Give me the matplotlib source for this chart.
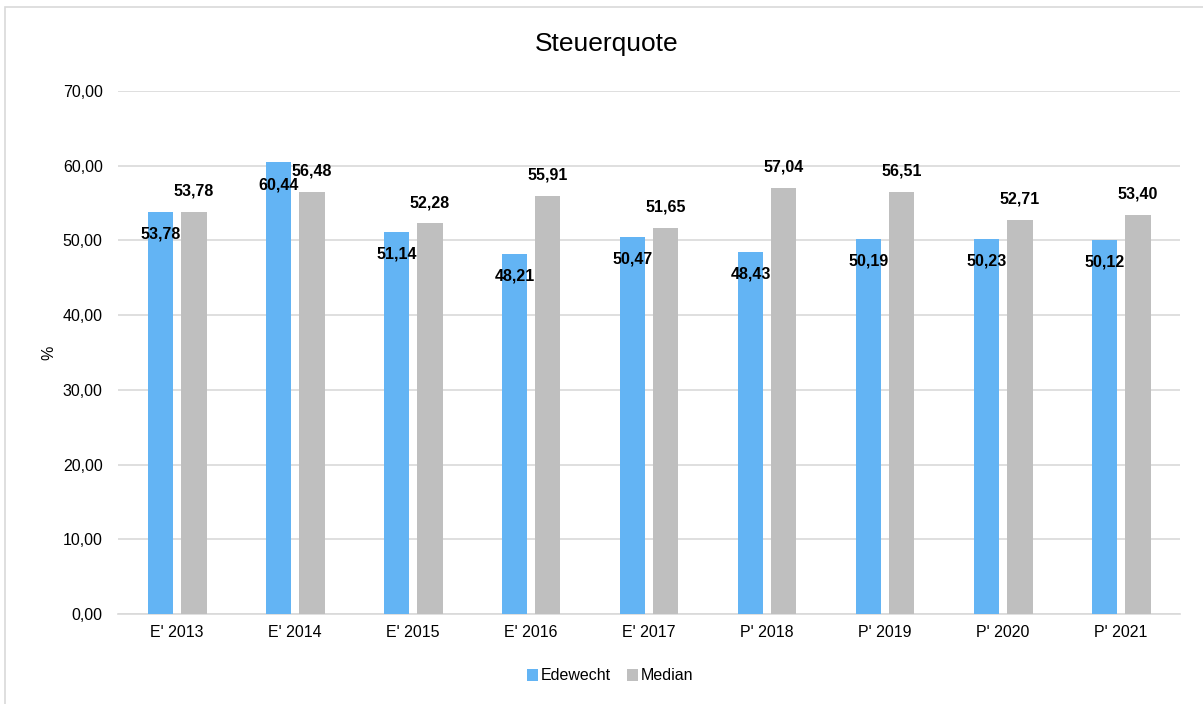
import matplotlib

matplotlib.use("Agg")
import matplotlib.pyplot as plt
import numpy as np
from matplotlib.patches import Rectangle

plt.rcParams["font.family"] = ["Liberation Sans", "DejaVu Sans"]

categories = ["E' 2013", "E' 2014", "E' 2015", "E' 2016", "E' 2017",
              "P' 2018", "P' 2019", "P' 2020", "P' 2021"]
edewecht = [53.78, 60.44, 51.14, 48.21, 50.47, 48.43, 50.19, 50.23, 50.12]
median = [53.78, 56.48, 52.28, 55.91, 51.65, 57.04, 56.51, 52.71, 53.40]

BLUE = "#63b4f4"
GREY = "#bfbfbf"


def fmt(v):
    return f"{v:.2f}".replace(".", ",")


fig = plt.figure(figsize=(12.03, 7.04), dpi=100)
ax = fig.add_axes([118 / 1203, 1 - 614 / 704, (1180 - 118) / 1203, (614 - 91) / 704])

# light frame around the chart area
fig.patches.append(Rectangle((5 / 1203, -0.05), 1.1, 1 - 7 / 704 + 0.05,
                             transform=fig.transFigure, fill=False,
                             edgecolor="#d9d9d9", linewidth=1.2))

x = np.arange(len(categories))
w = 0.22
off = 0.14
ax.bar(x - off, edewecht, w, color=BLUE, label="Edewecht", zorder=3)
ax.bar(x + off, median, w, color=GREY, label="Median", zorder=3)

for xi, v in zip(x, edewecht):
    ax.annotate(fmt(v), (xi - off, v), xytext=(0, -16), textcoords="offset points",
                ha="center", va="center", fontsize=11.5, fontweight="bold", zorder=4)
for xi, v in zip(x, median):
    ax.annotate(fmt(v), (xi + off, v), xytext=(0, 15), textcoords="offset points",
                ha="center", va="center", fontsize=11.5, fontweight="bold", zorder=4)

ax.set_xlim(-0.5, len(categories) - 0.5)
ax.set_ylim(0, 70)
ax.set_yticks(np.arange(0, 71, 10))
ax.set_yticklabels([fmt(t) for t in np.arange(0, 71, 10)])
ax.set_xticks(x)
ax.set_xticklabels(categories)
ax.tick_params(axis="both", length=0, labelsize=11.5, colors="#000000")
ax.tick_params(axis="y", pad=11)
ax.tick_params(axis="x", pad=8)
ax.grid(axis="y", color="#d9d9d9", linewidth=1.2, zorder=0)
for s in ["top", "right", "left"]:
    ax.spines[s].set_visible(False)
ax.spines["bottom"].set_color("#d9d9d9")
ax.spines["bottom"].set_linewidth(1.2)

ax.set_ylabel("%", fontsize=11.5)
ax.yaxis.set_label_coords(-0.058, 0.5)

fig.text(607 / 1203, 1 - 44 / 704, "Steuerquote", ha="center", va="center", fontsize=19)

fig.legend(loc="center", bbox_to_anchor=(610 / 1203, 1 - 676 / 704), ncol=2,
           frameon=False, fontsize=11.5, handlelength=0.7, handleheight=0.7,
           handletextpad=0.15, columnspacing=1.0)

fig.savefig("out.png", dpi=100)
